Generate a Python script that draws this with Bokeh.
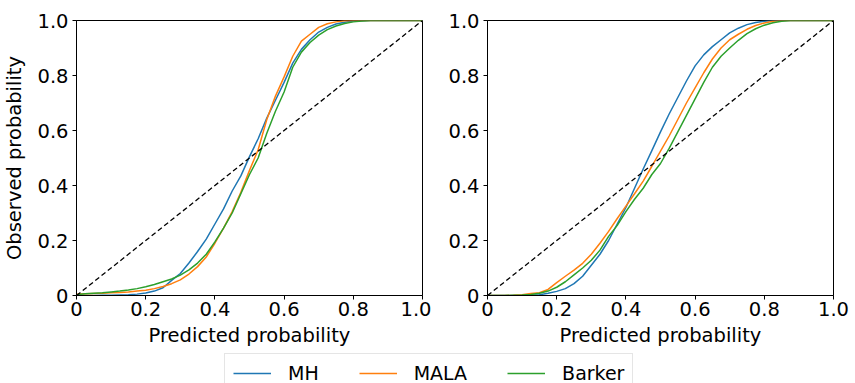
from bokeh.plotting import figure
from bokeh.layouts import row, column
from bokeh.models import Range1d, FixedTicker, CustomJSTickFormatter, Legend, LegendItem
from bokeh.embed import file_html
from bokeh.resources import INLINE

# ---- data ----
pred = [0.0, 0.025, 0.05, 0.075, 0.1, 0.125, 0.15, 0.175, 0.2, 0.225,
        0.25, 0.275, 0.3, 0.325, 0.35, 0.375, 0.4, 0.425, 0.45, 0.475,
        0.5, 0.525, 0.55, 0.575, 0.6, 0.625, 0.65, 0.675, 0.7, 0.725,
        0.75, 0.775, 0.8, 0.825, 0.85, 0.875, 0.9, 0.925, 0.95, 0.975, 1.0]

left_mh = [0.0, 0.0, 0.0, 0.001, 0.001, 0.002, 0.003, 0.005, 0.009, 0.016,
           0.028, 0.055, 0.08, 0.118, 0.16, 0.205, 0.26, 0.315, 0.38, 0.435,
           0.505, 0.57, 0.645, 0.71, 0.775, 0.845, 0.895, 0.93, 0.958, 0.975,
           0.987, 0.994, 0.998, 0.999, 1.0, 1.0, 1.0, 1.0, 1.0, 1.0, 1.0]
left_mala = [0.005, 0.006, 0.007, 0.008, 0.01, 0.011, 0.013, 0.016, 0.019, 0.025,
             0.033, 0.043, 0.057, 0.078, 0.105, 0.14, 0.19, 0.245, 0.305, 0.375,
             0.455, 0.53, 0.64, 0.725, 0.795, 0.87, 0.925, 0.95, 0.975, 0.988,
             0.995, 0.999, 1.0, 1.0, 1.0, 1.0, 1.0, 1.0, 1.0, 1.0, 1.0]
left_barker = [0.003, 0.006, 0.008, 0.01, 0.013, 0.016, 0.02, 0.025, 0.032, 0.04,
               0.05, 0.06, 0.074, 0.093, 0.118, 0.15, 0.195, 0.245, 0.3, 0.37,
               0.44, 0.5, 0.59, 0.67, 0.74, 0.83, 0.885, 0.92, 0.947, 0.967,
               0.98, 0.989, 0.995, 0.998, 1.0, 1.0, 1.0, 1.0, 1.0, 1.0, 1.0]

right_mh = [0.0, 0.0, 0.0, 0.0, 0.0, 0.001, 0.003, 0.008, 0.015, 0.025,
            0.043, 0.07, 0.11, 0.15, 0.2, 0.26, 0.32, 0.39, 0.46, 0.527,
            0.595, 0.66, 0.72, 0.78, 0.835, 0.875, 0.905, 0.93, 0.955, 0.972,
            0.985, 0.993, 0.997, 1.0, 1.0, 1.0, 1.0, 1.0, 1.0, 1.0, 1.0]
right_mala = [0.0, 0.0, 0.0, 0.001, 0.003, 0.007, 0.01, 0.022, 0.047, 0.07,
              0.092, 0.117, 0.15, 0.19, 0.233, 0.28, 0.325, 0.37, 0.416, 0.47,
              0.525, 0.58, 0.64, 0.70, 0.755, 0.81, 0.86, 0.9, 0.93, 0.95,
              0.968, 0.982, 0.991, 0.997, 1.0, 1.0, 1.0, 1.0, 1.0, 1.0, 1.0]
right_barker = [0.0, 0.0, 0.0, 0.001, 0.002, 0.004, 0.008, 0.016, 0.03, 0.05,
                0.075, 0.1, 0.128, 0.165, 0.215, 0.255, 0.305, 0.35, 0.39, 0.44,
                0.48, 0.535, 0.595, 0.655, 0.715, 0.775, 0.83, 0.87, 0.9, 0.928,
                0.952, 0.97, 0.983, 0.992, 0.997, 1.0, 1.0, 1.0, 1.0, 1.0, 1.0]

diag = [0.0, 1.0]
ticks = [0.0, 0.2, 0.4, 0.6, 0.8, 1.0]
series_names = ["MH", "MALA", "Barker"]
colors = ["#1f77b4", "#ff7f0e", "#2ca02c"]

FONT = "DejaVu Sans"
FS = "19.5px"


def make_panel(ys, border_left, border_right, ylabel):
    p = figure(frame_width=346, frame_height=275,
               min_border_left=border_left, min_border_right=border_right,
               min_border_top=20, min_border_bottom=50,
               x_range=Range1d(0, 1), y_range=Range1d(0, 1),
               toolbar_location=None, output_backend="svg",
               background_fill_color="white", border_fill_color="white")
    p.grid.visible = False
    p.outline_line_color = "black"
    p.outline_line_width = 1
    for y, c in zip(ys, colors):
        p.line(pred, y, line_color=c, line_width=1.5)
    p.line(diag, diag, line_color="black", line_width=1.3, line_dash="5 3")
    fmt = CustomJSTickFormatter(code="return tick == 0 ? '0' : tick.toFixed(1);")
    for ax in (p.xaxis[0], p.yaxis[0]):
        ax.ticker = FixedTicker(ticks=ticks)
        ax.formatter = fmt
        ax.major_label_text_font = FONT
        ax.major_label_text_font_size = FS
        ax.major_label_text_color = "black"
        ax.axis_line_color = "black"
        ax.major_tick_line_color = "black"
        ax.minor_tick_line_color = None
        ax.major_tick_in = 0
        ax.major_tick_out = 4
        ax.axis_label_text_font = FONT
        ax.axis_label_text_font_size = FS
        ax.axis_label_text_font_style = "normal"
        ax.axis_label_text_color = "black"
    p.xaxis[0].major_label_standoff = 2
    p.yaxis[0].major_label_standoff = 4
    p.xaxis[0].axis_label = "Predicted probability"
    p.xaxis[0].axis_label_standoff = 5
    if ylabel:
        p.yaxis[0].axis_label = ylabel
        p.yaxis[0].axis_label_standoff = 8
    return p


p1 = make_panel([left_mh, left_mala, left_barker], 75, 9, "Observed probability")
p2 = make_panel([right_mh, right_mala, right_barker], 56, 23, None)

# legend strip: lines carry the real series but sit outside this strip's visible range
p3 = figure(width=855, height=38, toolbar_location=None, output_backend="svg",
            x_axis_location=None, y_axis_location=None, min_border=0,
            x_range=Range1d(5, 6), y_range=Range1d(5, 6))
p3.grid.visible = False
p3.outline_line_color = None
items = []
for name, c, y in zip(series_names, colors, [left_mh, left_mala, left_barker]):
    r = p3.line(pred, y, line_color=c, line_width=1.5)
    items.append(LegendItem(label=name, renderers=[r]))
leg = Legend(items=items, orientation="horizontal", location=(224, -6),
             glyph_width=38, glyph_height=20, label_standoff=17, spacing=40,
             padding=8, label_height=20,
             label_text_font=FONT, label_text_font_size="19px", label_text_color="black",
             border_line_color="#cccccc", border_line_width=1,
             background_fill_color="white", background_fill_alpha=1.0)
p3.add_layout(leg, "center")

layout = column(row(p1, p2), p3)
open("out.html", "w").write(file_html(layout, INLINE))
